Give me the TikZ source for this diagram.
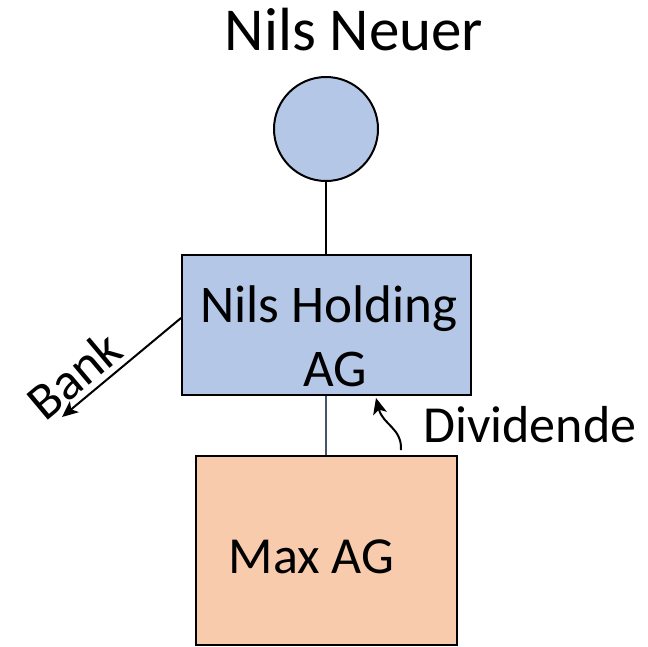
\documentclass[tikz,border=0pt]{standalone}
\usepackage{fontspec}
\setmainfont{Carlito}
\usetikzlibrary{arrows.meta}
\definecolor{holdblue}{HTML}{B4C7E7}
\definecolor{maxorange}{HTML}{F8CBAD}
\definecolor{slateline}{HTML}{44546A}
\tikzset{
  entity/.style={draw=black, line width=2pt, inner sep=0pt},
  bigtext/.style={font=\fontsize{52}{62}\selectfont, inner sep=0pt, anchor=base},
  tie/.style={line width=2pt},
  flow/.style={line width=2pt, -{Stealth[length=16pt,width=14pt,inset=4pt]}}
}
\begin{document}
\begin{tikzpicture}[x=1pt,y=-1pt]
  \useasboundingbox (0,0) rectangle (648,646);

  % owner
  \node[bigtext, font=\fontsize{61}{72}\selectfont] (owner) at (354,50) {Nils Neuer};
  \node[entity, circle, fill=holdblue, minimum size=104pt] (person) at (326,129) {};

  % holding company
  \node[entity, rectangle, fill=holdblue, minimum width=289pt, minimum height=140pt, anchor=north west] (holding) at (181,254) {};
  \node[bigtext, font=\fontsize{53}{62}\selectfont] (holdingA) at (329,322) {Nils Holding};
  \node[bigtext, font=\fontsize{53}{62}\selectfont] (holdingB) at (335,386) {AG};

  % subsidiary
  \node[entity, rectangle, fill=maxorange, minimum width=261pt, minimum height=189pt, anchor=north west] (maxag) at (195,455) {};
  \node[bigtext] (maxlabel) at (311.5,573) {Max AG};

  % ownership links
  \draw[tie] (person.south) -- (holding.north -| person.south);
  \draw[line width=1.5pt, draw=slateline] (holding.south -| person.south) -- (maxag.north -| person.south);

  % loan to the bank
  \coordinate (bankend) at (62,417);
  \draw[flow] (holding.west |- 0,318) -- (bankend);
  \node[bigtext, anchor=center, rotate=40] (bank) at (74,375) {Bank};

  % dividend flow
  \coordinate (divstart) at (401,450);
  \coordinate (divtip) at (376,398);
  \draw[flow] (divstart) .. controls (402,428) and (383,425) .. (divtip);
  \node[bigtext, anchor=base west] (dividende) at (423,442) {Dividende};
\end{tikzpicture}
\end{document}
